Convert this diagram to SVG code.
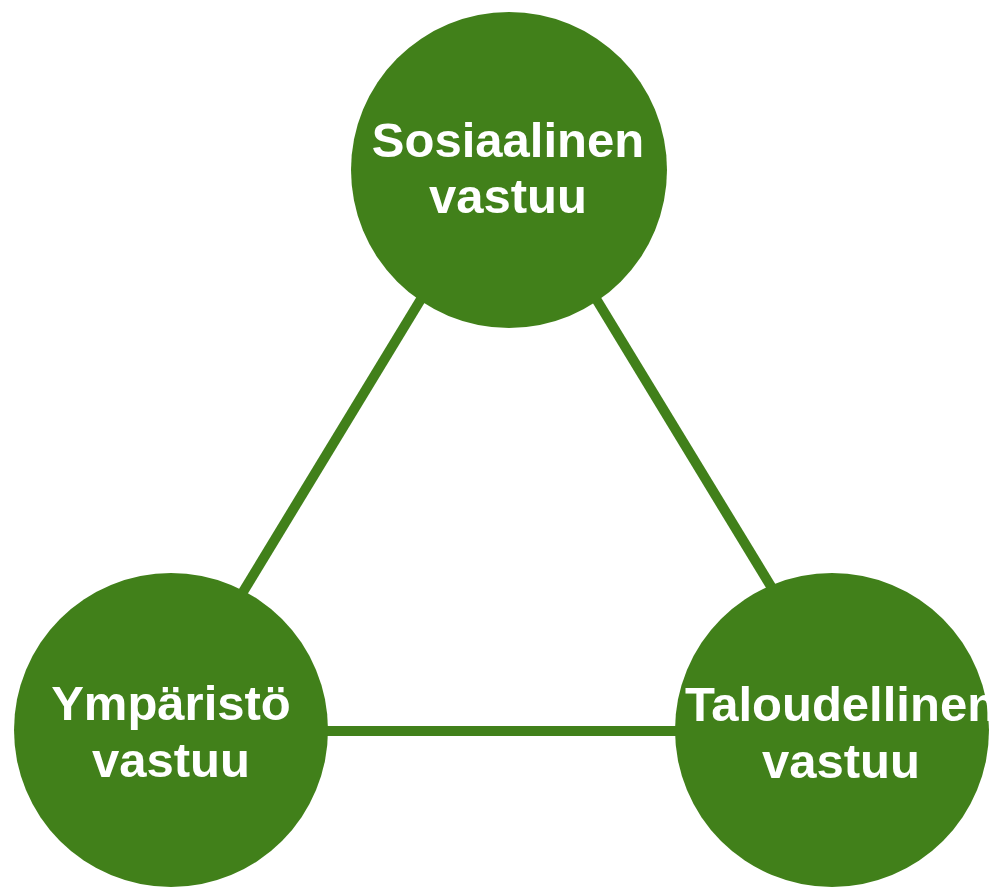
<svg xmlns="http://www.w3.org/2000/svg" width="1001" height="891" viewBox="0 0 1001 891">
<style>
.node{fill:#41801A;}
.lbl{fill:#ffffff;font-family:"Liberation Sans",Arial,sans-serif;font-weight:bold;font-size:49px;text-anchor:middle;}
.edge{stroke:#41801A;stroke-width:10;fill:none;}
</style>
<rect width="1001" height="891" fill="#ffffff"/>
<g id="connectors">
<line class="edge" x1="432.6" y1="280" x2="232" y2="610"/>
<line class="edge" x1="584.6" y1="280" x2="785.3" y2="610"/>
<line class="edge" x1="320" y1="731" x2="685" y2="731"/>
</g>
<g id="node-sosiaalinen">
<circle class="node" cx="509" cy="170" r="158"/>
<text class="lbl" x="508" y="157">Sosiaalinen</text>
<text class="lbl" x="508" y="213">vastuu</text>
</g>
<g id="node-ymparisto">
<circle class="node" cx="171" cy="730" r="157"/>
<text class="lbl" x="171" y="720">Ympäristö</text>
<text class="lbl" x="171" y="777">vastuu</text>
</g>
<g id="node-taloudellinen">
<circle class="node" cx="832" cy="730" r="157"/>
<text class="lbl" x="841" y="721">Taloudellinen</text>
<text class="lbl" x="841" y="778">vastuu</text>
</g>
</svg>
